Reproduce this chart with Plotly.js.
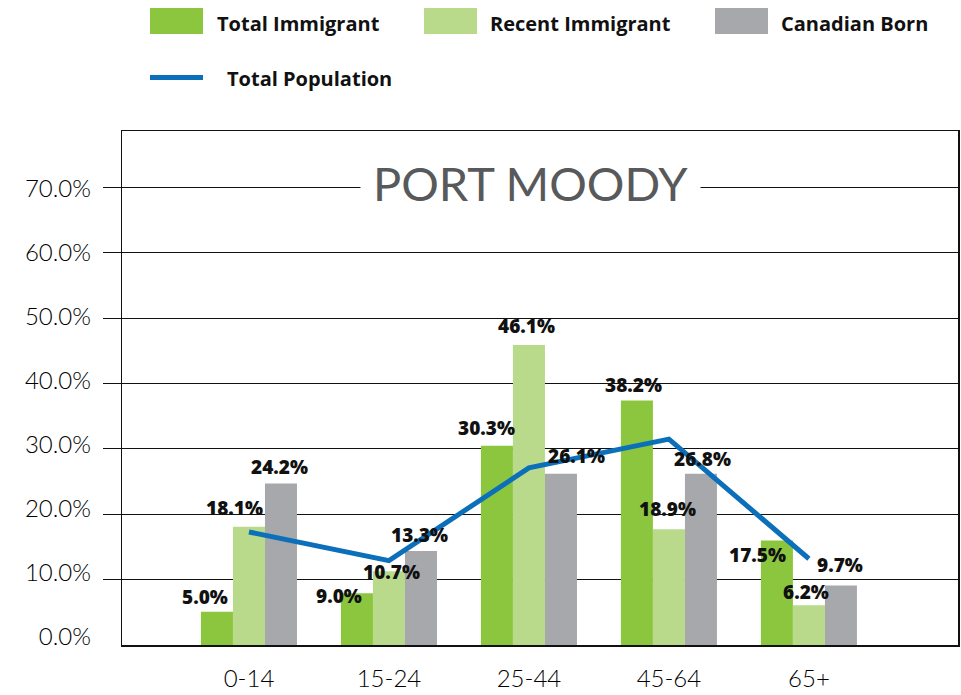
<!DOCTYPE html>
<html>
<head>
<meta charset="utf-8">
<script src="https://cdn.plot.ly/plotly-3.0.1.min.js"></script>
<style>html,body{margin:0;padding:0;background:#fff;}#chart{width:961px;height:695px;}</style>
</head>
<body>
<div id="chart"></div>
<script>
// ---- data ----
const categories = ["0-14", "15-24", "25-44", "45-64", "65+"];
const totalImmigrant = [5.1, 7.9, 30.5, 37.4, 16.0];
const recentImmigrant = [18.1, 11.3, 45.9, 17.7, 6.1];
const canadianBorn = [24.7, 14.4, 26.2, 26.2, 9.1];
const totalPopulation = [17.3, 12.9, 27.1, 31.5, 13.2];
const labelsTI = ["5.0%", "9.0%", "30.3%", "38.2%", "17.5%"];
const labelsRI = ["18.1%", "10.7%", "46.1%", "18.9%", "6.2%"];
const labelsCB = ["24.2%", "13.3%", "26.1%", "26.8%", "9.7%"];
const yTickVals = [0, 10, 20, 30, 40, 50, 60, 70];
const yTickText = ["0.0%", "10.0%", "20.0%", "30.0%", "40.0%", "50.0%", "60.0%", "70.0%"];
const seriesNames = ["Total Immigrant", "Recent Immigrant", "Canadian Born", "Total Population"];
const chartTitle = "PORT MOODY";

// ---- style ----
const colTI = "#8cc63f", colRI = "#b9da8b", colCB = "#a7a8ab", colLine = "#0b6fba";
const W = 961, H = 695, L = 122, R = 3, T = 131, B = 50;
const pw = W - L - R, ph = H - T - B;
const px = x => (x - L) / pw;
const py = y => (H - B - y) / ph;

// label offsets (pixels) relative to bar center / bar top
const offTI = [[-12, -15], [-18, 3], [-10, -18], [-3, -16], [-19, 15]];
const offRI = [[-14, -19], [3, 1], [-2, -19], [-1, -20], [-3, -13]];
const offCB = [[-1, -17], [-1, -16], [16, -18], [2, -15], [-1, -21]];

const traces = [
  {type: "bar", name: seriesNames[0], x: categories, y: totalImmigrant, marker: {color: colTI}, hoverinfo: "skip"},
  {type: "bar", name: seriesNames[1], x: categories, y: recentImmigrant, marker: {color: colRI}, hoverinfo: "skip"},
  {type: "bar", name: seriesNames[2], x: categories, y: canadianBorn, marker: {color: colCB}, hoverinfo: "skip"},
  {type: "scatter", mode: "lines", name: seriesNames[3], x: categories, y: totalPopulation, line: {color: colLine, width: 5}, hoverinfo: "skip"},
  {type: "scatter", mode: "markers", x: categories, y: totalPopulation, yaxis: "y2", marker: {opacity: 0}, hoverinfo: "skip", showlegend: false}
];

const labelFont = {family: "'Open Sans', Lato, sans-serif", size: 19, color: "#111", weight: 800};
const annotations = [];
function addLabels(vals, texts, offs, barShift) {
  vals.forEach((v, i) => {
    annotations.push({
      x: categories[i], y: v, xref: "x", yref: "y", text: texts[i], showarrow: false,
      xanchor: "center", yanchor: "middle", xshift: barShift + offs[i][0], yshift: -offs[i][1],
      font: labelFont
    });
  });
}
addLabels(totalImmigrant, labelsTI, offTI, -32);
addLabels(recentImmigrant, labelsRI, offRI, 0);
addLabels(canadianBorn, labelsCB, offCB, 32);

// title over the 70% gridline
annotations.push({
  x: px(530), y: 70, xref: "paper", yref: "y", text: chartTitle, showarrow: false,
  xanchor: "center", yanchor: "middle", bgcolor: "#fff", borderpad: 12, yshift: 5,
  font: {family: "Lato, 'DejaVu Sans', sans-serif", size: 47, color: "#58595b", weight: 400}
});

// legend
const legFont = {family: "'Open Sans', Lato, sans-serif", size: 20, color: "#111", weight: 700};
const shapes = [];
const swatches = [[150, 203, colTI, 215, 0], [424, 477, colRI, 488, 1], [715, 768, colCB, 779, 2]];
swatches.forEach(s => {
  shapes.push({type: "rect", xref: "paper", yref: "paper", x0: px(s[0]), x1: px(s[1]), y0: py(34), y1: py(8),
    fillcolor: s[2], line: {width: 0}});
  annotations.push({x: px(s[3]), y: py(23), xref: "paper", yref: "paper", text: seriesNames[s[4]],
    showarrow: false, xanchor: "left", yanchor: "middle", font: legFont});
});
shapes.push({type: "line", xref: "paper", yref: "paper", x0: px(150), x1: px(203), y0: py(77.5), y1: py(77.5),
  line: {color: colLine, width: 5}});
annotations.push({x: px(225), y: py(79), xref: "paper", yref: "paper", text: seriesNames[3],
  showarrow: false, xanchor: "left", yanchor: "middle", font: legFont});

const tickFont = {family: "Lato, 'DejaVu Sans', sans-serif", size: 24, color: "#000", weight: 300};

const layout = {
  width: W, height: H,
  margin: {l: L, r: R, t: T, b: B, pad: 0},
  paper_bgcolor: "#fff", plot_bgcolor: "#fff",
  showlegend: false,
  barmode: "group", bargap: 0.314, bargroupgap: 0,
  xaxis: {
    type: "category", range: [-0.907, 5.065], showgrid: false, zeroline: false,
    showline: true, mirror: true, linecolor: "#111", linewidth: 1.5,
    ticks: "", tickfont: tickFont, ticklabelstandoff: 12, fixedrange: true
  },
  yaxis: {
    range: [0, 78.65], tickvals: yTickVals.slice(1), showticklabels: false,
    showgrid: true, gridcolor: "#111", gridwidth: 1, zeroline: false,
    showline: true, mirror: true, linecolor: "#111", linewidth: 1.5,
    ticks: "outside", ticklen: 18, tickcolor: "#111", tickwidth: 1, fixedrange: true
  },
  yaxis2: {
    overlaying: "y", side: "left", range: [-1.25, 78.98],
    tickvals: yTickVals, ticktext: yTickText, tickfont: tickFont,
    showgrid: false, zeroline: false, showline: false, ticks: "",
    ticklabelstandoff: 30, fixedrange: true
  },
  annotations: annotations,
  shapes: shapes
};

Plotly.newPlot("chart", traces, layout, {displayModeBar: false, staticPlot: true});
</script>
</body>
</html>
